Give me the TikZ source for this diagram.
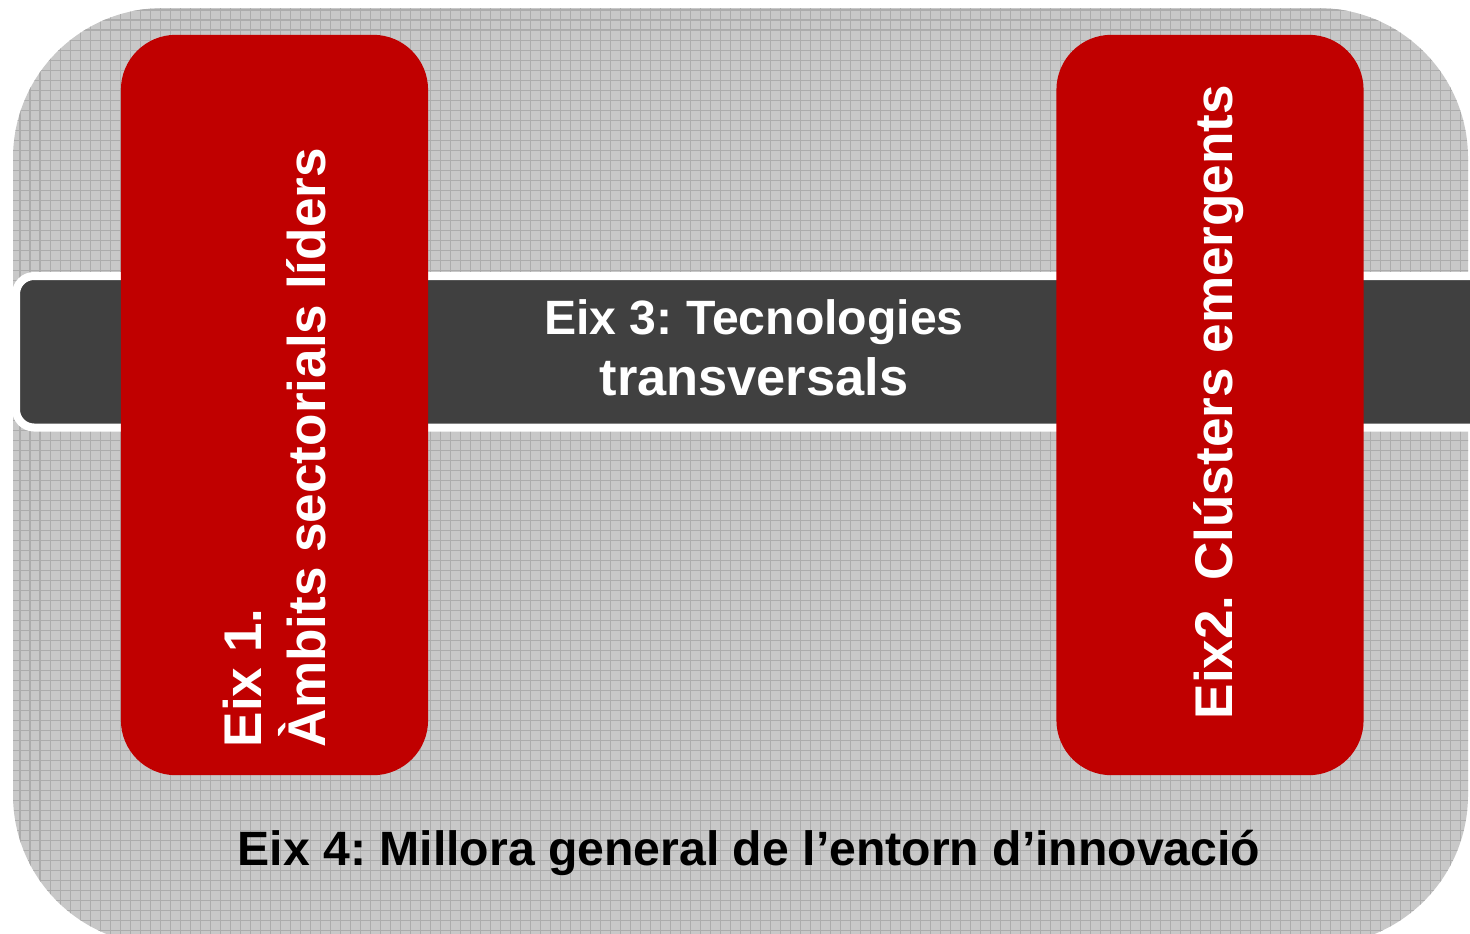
\documentclass[tikz,border=0pt]{standalone}
\usepackage{fontspec}
\setmainfont{Liberation Sans}
\usepackage{tikz}
\frenchspacing

\definecolor{eixred}{RGB}{192,0,0}
\definecolor{bardark}{RGB}{64,64,64}
\definecolor{bggray}{RGB}{200,200,200}
\definecolor{gridgray}{RGB}{172,172,172}

\tikzset{
	redbox/.style={fill=eixred, rounded corners=0.55cm, minimum width=3.07cm, minimum height=7.4cm, inner sep=0pt},
	vlabel/.style={text=white, font=\fontsize{15.1}{18.2}\selectfont\bfseries, rotate=90, align=left, inner sep=0pt},
	hlabel/.style={font=\fontsize{13.7}{17.4}\selectfont\bfseries, align=center, inner sep=0pt}
}

\begin{document}
\begin{tikzpicture}[x=0.01cm, y=-0.01cm]
	\useasboundingbox (0,0) rectangle (1470,933);
	\clip (0,0) rectangle (1470,933);
	% background panel
	\fill[bggray, rounded corners=1.5cm] (13,8) rectangle (1468,945);
	\begin{scope}
		\clip[rounded corners=1.5cm] (13,8) rectangle (1468,945);
		\draw[gridgray, line width=0.3pt, step=0.1cm] (0,0) grid (1470,945);
	\end{scope}
	% transversal bar
	\draw[fill=bardark, draw=white, line width=0.08cm, rounded corners=0.18cm] (16,276) rectangle (1600,427.5);
	% red axes
	\node[redbox] (eix1) at (274.5,405) {};
	\node[redbox] (eix2) at (1210,405) {};
	\node[vlabel, anchor=south west] (t1) at (327,748) {Eix 1.\\Àmbits sectorials líders};
	\node[vlabel, anchor=base west] (t2) at (1232,720) {Eix2. Clústers emergents};
	\node[hlabel, text=white, anchor=south] (t3) at (754,397) {Eix 3: Tecnologies\\{\fontsize{14.9}{17.4}\selectfont transversals}};
	\node[hlabel, anchor=base] (t4) at (749,865) {Eix 4: Millora general de l’entorn d’innovació};
\end{tikzpicture}
\end{document}
